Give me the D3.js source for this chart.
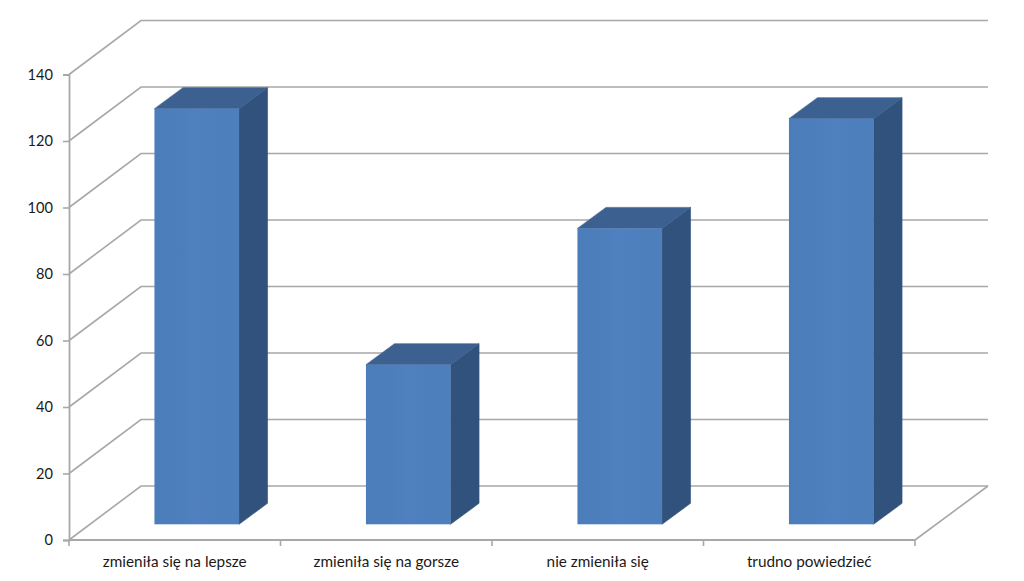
<!DOCTYPE html>
<html><head><meta charset="utf-8">
<script src="https://cdn.jsdelivr.net/npm/d3@7"></script>
<style>
html,body{margin:0;padding:0;background:#fff;overflow:hidden}
text{font-family:Lato,"Open Sans",sans-serif;fill:#1a1a1a}
</style></head><body>
<svg id="c" width="1024" height="581"></svg>
<script>
const categories = ["zmieniła się na lepsze","zmieniła się na gorsze","nie zmieniła się","trudno powiedzieć"];
const values = [125, 48, 89, 122];
const yTicks = [0,20,40,60,80,100,120,140];

const svg = d3.select("#c");
const left = 69, right = 915, top0 = 74.5, bottom = 540;
const wallDx = 72, wallDy = -54, barOffX = 22, barOffY = -15.7, barDepthX = 28.5, barDepthY = -21;
const gridColor = "#a8a8a8";

const y = d3.scaleLinear().domain([0,140]).range([bottom, top0]);
const x = d3.scaleBand().domain(categories).range([left, right]).paddingInner(0.6).paddingOuter(0.3);
const xEdge = d3.scalePoint().domain(d3.range(categories.length + 1)).range([left, right]);

const defs = svg.append("defs");
const grad = defs.append("linearGradient").attr("id","face");
grad.append("stop").attr("offset","0").attr("stop-color","#4a7db9");
grad.append("stop").attr("offset","0.5").attr("stop-color","#5080bf");
grad.append("stop").attr("offset","1").attr("stop-color","#4c7fbc");

// gridlines on side and back wall
svg.append("g").selectAll("path").data(yTicks).join("path")
  .attr("fill","none").attr("stroke",gridColor).attr("stroke-width",1.6)
  .attr("d", d => d3.line()([[left,y(d)],[left+wallDx,y(d)+wallDy],[right+wallDx+1,y(d)+wallDy]]));

// floor right edge
svg.append("path").attr("fill","none").attr("stroke",gridColor).attr("stroke-width",1.6)
  .attr("d", d3.line()([[right,bottom],[right+wallDx+1,bottom+wallDy]]));

// bars
const bars = svg.append("g").selectAll("g").data(categories.map((c,i)=>({c,v:values[i]}))).join("g");
const w = x.bandwidth();
const fx = d => x(d.c) + barOffX;
const base = y(0) + barOffY;
const fy = d => y(d.v) + barOffY;
bars.append("path").attr("fill","#31527c").attr("stroke","#31527c").attr("stroke-width",0.6)
  .attr("d", d => d3.line()([[fx(d)+w,fy(d)],[fx(d)+w+barDepthX,fy(d)+barDepthY],[fx(d)+w+barDepthX,base+barDepthY],[fx(d)+w,base]])+"Z");
bars.append("path").attr("fill","#3c6190").attr("stroke","#3c6190").attr("stroke-width",0.6)
  .attr("d", d => d3.line()([[fx(d),fy(d)],[fx(d)+barDepthX,fy(d)+barDepthY],[fx(d)+w+barDepthX,fy(d)+barDepthY],[fx(d)+w,fy(d)]])+"Z");
bars.append("rect").attr("fill","url(#face)")
  .attr("x",fx).attr("y",fy).attr("width",w).attr("height",d=>base-fy(d));

// y axis
const yAxis = svg.append("g").attr("transform",`translate(${left},0)`)
  .call(d3.axisLeft(y).tickValues(yTicks).tickSize(6).tickPadding(10));
yAxis.select(".domain").attr("stroke",gridColor).attr("stroke-width",1.8);
yAxis.selectAll("line").attr("stroke",gridColor).attr("stroke-width",1.6);
yAxis.selectAll("text").attr("font-size",14.6).style("font-family","Lato").attr("dy","0.34em");

// x axis
svg.append("line").attr("x1",left).attr("x2",right).attr("y1",bottom).attr("y2",bottom)
  .attr("stroke",gridColor).attr("stroke-width",1.8);
svg.append("g").selectAll("line").data(xEdge.domain()).join("line")
  .attr("x1",d=>xEdge(d)).attr("x2",d=>xEdge(d)).attr("y1",bottom).attr("y2",bottom+6)
  .attr("stroke",gridColor).attr("stroke-width",1.6);
svg.append("g").selectAll("text").data(categories).join("text")
  .attr("x",d=>x(d)+w/2).attr("y",567).attr("text-anchor","middle").attr("font-size",15.3)
  .text(d=>d);
</script>
</body></html>
